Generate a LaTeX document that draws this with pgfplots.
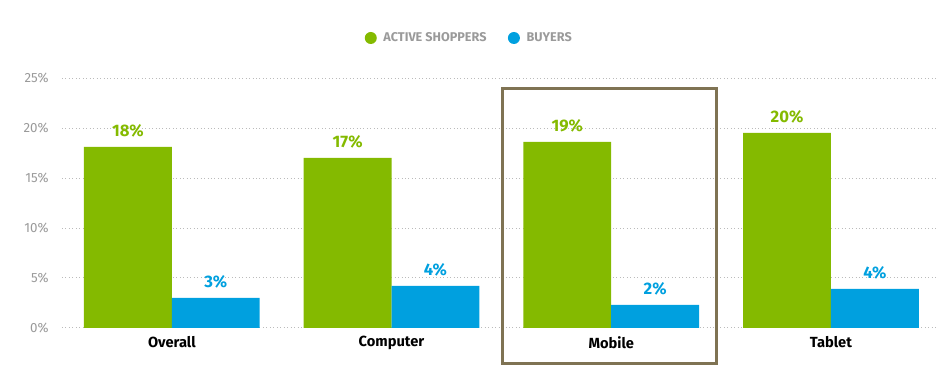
\documentclass[border=0pt]{standalone}
\usepackage{fontspec}
\setmainfont{Fira Sans}
\usepackage{pgfplots}
\pgfplotsset{compat=1.18}
\definecolor{cgreen}{HTML}{84BA00}
\definecolor{cblue}{HTML}{00A0DF}
\definecolor{cbox}{HTML}{7F7353}
\definecolor{cgray}{HTML}{9A9A9A}
\definecolor{cgrid}{HTML}{BBBBBB}
\begin{document}
\begin{tikzpicture}
\path (-46.5pt,-40.5pt) rectangle (657.75pt,246pt);
\begin{axis}[
  at={(0,0)}, anchor=south west,
  scale only axis,
  width=657.75pt, height=187.5pt,
  xmin=-0.5, xmax=3.49,
  ymin=0, ymax=25,
  axis line style={draw=none},
  ybar=0pt, bar width=0.4,
  xtick={0,1,2,3},
  xticklabels={Overall,Computer,Mobile,Tablet},
  x tick label style={font=\fontsize{11pt}{13pt}\selectfont\bfseries, text=black, yshift=-3pt},
  ytick={0,5,10,15,20,25},
  yticklabel={\pgfmathprintnumber{\tick}\%},
  y tick label style={font=\fontsize{10pt}{12pt}\selectfont, text=cgray, xshift=-6.5pt},
  /pgf/number format/assume math mode=true,
  major tick length=0pt,
  ymajorgrids,
  grid style={cgrid, line width=0.6pt, dotted},
  clip=false,
  point meta=explicit symbolic,
  nodes near coords,
  nodes near coords style={anchor=center, yshift=12pt, font=\fontsize{12.5pt}{14pt}\selectfont\bfseries},
  legend columns=2,
  legend style={draw=none, fill=none, at={(0.465,1.16)}, anchor=center,
    font=\fontsize{9.5pt}{11pt}\selectfont\bfseries, text=cgray,
    /tikz/every odd column/.append style={column sep=3pt},
    /tikz/every even column/.append style={column sep=14pt}},
  legend cell align=left,
]
\addplot[fill=cgreen, draw=none, nodes near coords style={text=cgreen},
  legend image code/.code={\fill[cgreen] (0cm,0cm) circle (4.5pt);}]
  coordinates {(0,18.1)[18\%] (1,17.0)[17\%] (2,18.6)[19\%] (3,19.5)[20\%]};
\addplot[fill=cblue, draw=none, nodes near coords style={text=cblue},
  legend image code/.code={\fill[cblue] (0cm,0cm) circle (4.5pt);}]
  coordinates {(0,3.0)[3\%] (1,4.2)[4\%] (2,2.3)[2\%] (3,3.9)[4\%]};
\legend{ACTIVE SHOPPERS, BUYERS}
\draw[cbox, line width=2.3pt] (axis cs:1.505,23.9) rectangle (axis cs:2.48,-3.6);
\end{axis}
\end{tikzpicture}
\end{document}
